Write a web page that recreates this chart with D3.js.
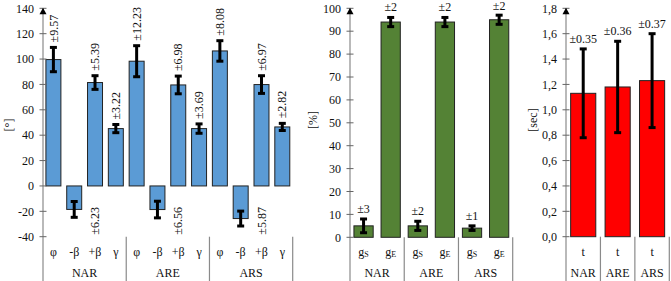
<!DOCTYPE html>
<html>
<head>
<meta charset="utf-8">
<script src="https://cdn.jsdelivr.net/npm/d3@7"></script>
<style>
  body { margin: 0; background: #fff; }
</style>
</head>
<body>
<svg id="chart" width="671" height="281" font-family="'Liberation Serif', 'DejaVu Serif', serif" font-size="12" fill="#111"></svg>
<script>
// groups shared by the three panels
var groups = ["NAR", "ARE", "ARS"];

// panel 1: angles [°]
var angleParams = ["φ", "-β", "+β", "γ"];
var angleNAR = [99.6, -18.5, 81.5, 45.2];
var angleARE = [98.3, -18.6, 79.6, 45.2];
var angleARS = [106.4, -25.7, 79.9, 46.5];
var angleErrNAR = [9.57, 6.23, 5.39, 3.22];
var angleErrARE = [12.23, 6.56, 6.98, 3.69];
var angleErrARS = [8.08, 5.87, 6.97, 2.82];
var angleTicks = [-40, -20, 0, 20, 40, 60, 80, 100, 120, 140];

// panel 2: gait phases [%]
var gaitParams = ["S", "E"];
var gaitNAR = [5, 94];
var gaitARE = [5, 94];
var gaitARS = [4, 95];
var gaitErrNAR = [3, 2];
var gaitErrARE = [2, 2];
var gaitErrARS = [1, 2];
var gaitTicks = [0, 10, 20, 30, 40, 50, 60, 70, 80, 90, 100];

// panel 3: time [sec]
var timeParams = ["t"];
var timeMeans = [1.13, 1.18, 1.23];
var timeErrors = [0.35, 0.36, 0.37];
var timeTicks = [0, 0.2, 0.4, 0.6, 0.8, 1.0, 1.2, 1.4, 1.6, 1.8];

var svg = d3.select("#chart");

function rows(params, means, errs) {
  var out = [];
  groups.forEach(function(g, gi) {
    params.forEach(function(p, pi) {
      out.push({group: g, param: p, key: g + "|" + p, mean: means[gi][pi], err: errs[gi][pi]});
    });
  });
  return out;
}

function panel(opt) {
  var data = opt.data;
  var x = d3.scaleBand()
      .domain(data.map(function(d) { return d.key; }))
      .range([opt.x0, opt.x1])
      .paddingInner(opt.pad)
      .paddingOuter(opt.pad / 2);
  var y = d3.scaleLinear().domain(opt.domain).range([opt.yBottom, opt.yTop]);
  var g = svg.append("g");
  var half = (x.step() - x.bandwidth()) / 2;

  // bars
  g.selectAll("rect.bar")
    .data(data)
    .enter().append("rect")
    .attr("class", "bar")
    .attr("x", function(d) { return x(d.key); })
    .attr("width", x.bandwidth())
    .attr("y", function(d) { return y(Math.max(0, d.mean)); })
    .attr("height", function(d) { return Math.abs(y(d.mean) - y(0)); })
    .attr("fill", opt.color)
    .attr("stroke", "#222")
    .attr("stroke-width", 1);

  // error bars
  var eb = g.selectAll("g.err").data(data).enter().append("g").attr("class", "err");
  eb.append("line")
    .attr("x1", function(d) { return x(d.key) + x.bandwidth() / 2; })
    .attr("x2", function(d) { return x(d.key) + x.bandwidth() / 2; })
    .attr("y1", function(d) { return y(d.mean - d.err); })
    .attr("y2", function(d) { return y(d.mean + d.err); })
    .attr("stroke", "#000").attr("stroke-width", 3);
  [-1, 1].forEach(function(s) {
    eb.append("line")
      .attr("x1", function(d) { return x(d.key) + x.bandwidth() / 2 - 3.5; })
      .attr("x2", function(d) { return x(d.key) + x.bandwidth() / 2 + 3.5; })
      .attr("y1", function(d) { return y(d.mean + s * d.err); })
      .attr("y2", function(d) { return y(d.mean + s * d.err); })
      .attr("stroke", "#000").attr("stroke-width", 3);
  });

  // error labels
  opt.labels(g, data, x, y);

  // y axis line, ticks, arrow
  g.append("line")
    .attr("x1", opt.x0).attr("x2", opt.x0)
    .attr("y1", y(opt.domain[1])).attr("y2", 281)
    .attr("stroke", "#8a8a8a").attr("stroke-width", 1.2);
  g.selectAll("line.tick")
    .data(opt.ticks)
    .enter().append("line")
    .attr("x1", opt.x0 - 3.5).attr("x2", opt.x0 + 3.5)
    .attr("y1", function(d) { return y(d); })
    .attr("y2", function(d) { return y(d); })
    .attr("stroke", "#666");
  g.append("path")
    .attr("d", "M" + opt.x0 + "," + (y(opt.domain[1]) - 0.5) + "l3.5,6.5h-7z")
    .attr("fill", "#000");
  g.selectAll("text.tick")
    .data(opt.ticks)
    .enter().append("text")
    .attr("x", opt.x0 - 9)
    .attr("y", function(d) { return y(d); })
    .attr("dy", "0.35em")
    .attr("text-anchor", "end")
    .text(opt.fmt);

  // axis title
  g.append("text")
    .attr("transform", "translate(" + opt.titleX + "," + opt.titleY + ") rotate(-90)")
    .attr("text-anchor", "middle")
    .attr("dy", "0.35em")
    .text(opt.title);

  // category separators and group names
  var n = data.length / groups.length;
  groups.forEach(function(grp, gi) {
    var last = data[gi * n + n - 1];
    var xe = x(last.key) + x.bandwidth() + half;
    g.append("line")
      .attr("x1", xe).attr("x2", xe)
      .attr("y1", opt.yBottom).attr("y2", 281)
      .attr("stroke", "#8a8a8a").attr("stroke-width", 1.2);
    var xs = x(data[gi * n].key) - half;
    g.append("text")
      .attr("x", (xs + xe) / 2)
      .attr("y", 277)
      .attr("text-anchor", "middle")
      .text(grp);
  });

  // parameter labels
  var pl = g.selectAll("text.param")
    .data(data)
    .enter().append("text")
    .attr("x", function(d) { return x(d.key) + x.bandwidth() / 2; })
    .attr("y", 256)
    .attr("text-anchor", "middle");
  opt.paramText(pl);
}

// panel 1
panel({
  data: rows(angleParams, [angleNAR, angleARE, angleARS], [angleErrNAR, angleErrARE, angleErrARS]),
  x0: 43, x1: 292.7, yTop: 8.3, yBottom: 236.7,
  domain: [-40, 140], ticks: angleTicks, pad: 0.28,
  color: "#5b9bd5",
  fmt: function(d) { return d; },
  title: "[°]", titleX: 9, titleY: 125,
  paramText: function(sel) { sel.text(function(d) { return d.param; }); },
  labels: function(g, data, x, y) {
    g.selectAll("text.lbl")
      .data(data)
      .enter().append("text")
      .attr("transform", function(d) {
        var cx, cy;
        if (d.mean >= 0) {
          cx = x(d.key) + x.bandwidth() / 2;
          cy = y(d.mean + d.err) - 5;
        } else {
          // negative bars: label sits low, one band to the right
          cx = x(d.key) + x.step() + x.bandwidth() / 2;
          cy = y(-40) - 2;
        }
        return "translate(" + cx + "," + cy + ") rotate(-90)";
      })
      .attr("dy", "0.35em")
      .text(function(d) { return "±" + d.err.toFixed(2); });
  }
});

// panel 2
panel({
  data: rows(gaitParams, [gaitNAR, gaitARE, gaitARS], [gaitErrNAR, gaitErrARE, gaitErrARS]),
  x0: 350, x1: 512.7, yTop: 8.3, yBottom: 237.3,
  domain: [0, 100], ticks: gaitTicks, pad: 0.29,
  color: "#548235",
  fmt: function(d) { return d; },
  title: "[%]", titleX: 313, titleY: 120,
  paramText: function(sel) {
    sel.text("g");
    sel.append("tspan").attr("font-size", 8).attr("dy", 1).text(function(d) { return d.param; });
  },
  labels: function(g, data, x, y) {
    g.selectAll("text.lbl")
      .data(data)
      .enter().append("text")
      .attr("x", function(d) { return x(d.key) + x.bandwidth() / 2; })
      .attr("y", function(d) { return Math.max(y(d.mean + d.err) - 6, 10); })
      .attr("text-anchor", "middle")
      .text(function(d) { return "±" + d.err; });
  }
});

// panel 3
panel({
  data: rows(timeParams, timeMeans.map(function(v) { return [v]; }), timeErrors.map(function(v) { return [v]; })),
  x0: 566, x1: 669.3, yTop: 8.3, yBottom: 236.7,
  domain: [0, 1.8], ticks: timeTicks, pad: 0.27,
  color: "#ff0000",
  fmt: function(d) { return d3.format(".1f")(d).replace(".", ","); },
  title: "[sec]", titleX: 533, titleY: 120,
  paramText: function(sel) { sel.text(function(d) { return d.param; }); },
  labels: function(g, data, x, y) {
    g.selectAll("text.lbl")
      .data(data)
      .enter().append("text")
      .attr("x", function(d) { return x(d.key) + x.bandwidth() / 2; })
      .attr("y", function(d) { return y(d.mean + d.err) - 6; })
      .attr("text-anchor", "middle")
      .text(function(d) { return "±" + d.err.toFixed(2); });
  }
});
</script>
</body>
</html>
